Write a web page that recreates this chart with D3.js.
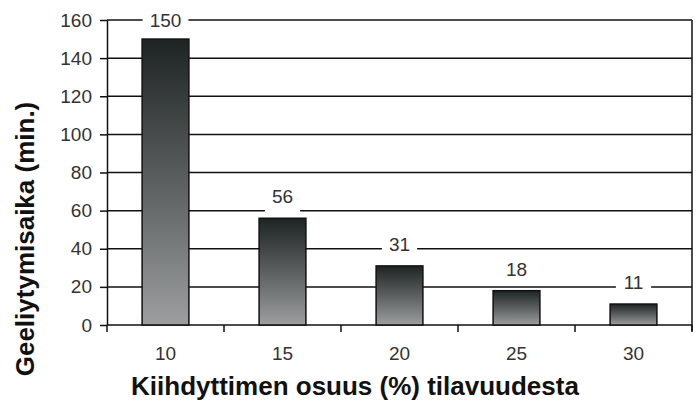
<!DOCTYPE html>
<html>
<head>
<meta charset="utf-8">
<script src="https://cdn.jsdelivr.net/npm/d3@7"></script>
<style>
body { margin: 0; background: #fff; }
svg { display: block; font-family: "Liberation Sans", Arial, sans-serif; }
</style>
</head>
<body>
<script>
var categories = ["10", "15", "20", "25", "30"];
var values = [150, 56, 31, 18, 11];
var yTicks = [0, 20, 40, 60, 80, 100, 120, 140, 160];

var margin = {top: 20, right: 6, bottom: 75, left: 107};
var width = 698 - margin.left - margin.right;
var height = 400 - margin.top - margin.bottom;

var svg = d3.select("body").append("svg")
    .attr("width", 698)
    .attr("height", 400);

var defs = svg.append("defs");
var grad = defs.append("linearGradient")
    .attr("id", "barGrad")
    .attr("x1", 0).attr("y1", 0).attr("x2", 0).attr("y2", 1);
grad.append("stop").attr("offset", "0%").attr("stop-color", "#1e2423");
grad.append("stop").attr("offset", "50%").attr("stop-color", "#5b5f5f");
grad.append("stop").attr("offset", "100%").attr("stop-color", "#9c9e9f");

var g = svg.append("g")
    .attr("transform", "translate(" + margin.left + "," + margin.top + ")");

var xScale = d3.scaleBand().domain(categories).range([0, width]).paddingInner(0.6).paddingOuter(0.3);
var xBand = d3.scaleBand().domain(categories).range([0, width]);
var yScale = d3.scaleLinear().domain([0, 160]).range([height, 0]);

// gridlines
g.selectAll(".grid")
    .data(yTicks.filter(function(d) { return d > 0; }))
    .enter().append("line")
    .attr("x1", 0).attr("x2", width)
    .attr("y1", function(d) { return yScale(d); })
    .attr("y2", function(d) { return yScale(d); })
    .attr("stroke", "#111")
    .attr("stroke-width", 1.5);

// right border
g.append("line")
    .attr("x1", width).attr("x2", width)
    .attr("y1", 0).attr("y2", height + 6)
    .attr("stroke", "#111").attr("stroke-width", 1.5);

// y axis
var yAxis = g.append("g")
    .call(d3.axisLeft(yScale).tickValues(yTicks).tickSize(7).tickSizeOuter(0).tickPadding(8));
yAxis.select(".domain").attr("stroke", "#111").attr("stroke-width", 1.5);
yAxis.selectAll(".tick line").attr("stroke", "#111").attr("stroke-width", 1.5);
yAxis.selectAll("text").attr("font-size", 19).attr("fill", "#333");

// x axis with ticks at category boundaries
var xAxisG = g.append("g").attr("transform", "translate(0," + height + ")");
xAxisG.append("line")
    .attr("x1", 0).attr("x2", width)
    .attr("stroke", "#111").attr("stroke-width", 1.5);
var bounds = categories.map(function(c) { return xBand(c); }).concat([width]);
xAxisG.selectAll(".xtick")
    .data(bounds)
    .enter().append("line")
    .attr("x1", function(d) { return d; }).attr("x2", function(d) { return d; })
    .attr("y1", 0).attr("y2", 7)
    .attr("stroke", "#111").attr("stroke-width", 1.5);
xAxisG.selectAll(".xlab")
    .data(categories)
    .enter().append("text")
    .attr("x", function(d) { return xBand(d) + xBand.bandwidth() / 2; })
    .attr("y", 35)
    .attr("text-anchor", "middle")
    .attr("font-size", 19)
    .attr("fill", "#333")
    .text(function(d) { return d; });

// bars
g.selectAll(".bar")
    .data(values)
    .enter().append("rect")
    .attr("x", function(d, i) { return xScale(categories[i]); })
    .attr("y", function(d) { return yScale(d); })
    .attr("width", xScale.bandwidth())
    .attr("height", function(d) { return height - yScale(d); })
    .attr("fill", "url(#barGrad)")
    .attr("stroke", "#111")
    .attr("stroke-width", 1.5);

// value labels with white box
var labels = g.selectAll(".vlab")
    .data(values)
    .enter().append("g")
    .attr("transform", function(d, i) {
        var top = yScale(d) - 22;
        if (top < 0) top = 0;
        return "translate(" + (xScale(categories[i]) + xScale.bandwidth() / 2) + "," + top + ")";
    });
labels.append("rect")
    .attr("x", function(d) { return -(String(d).length * 5.3 + 7); })
    .attr("y", -12)
    .attr("width", function(d) { return 2 * (String(d).length * 5.3 + 7); })
    .attr("height", 28)
    .attr("fill", "#fff");
labels.append("text")
    .attr("text-anchor", "middle")
    .attr("dy", "0.36em")
    .attr("font-size", 19)
    .attr("fill", "#333")
    .text(function(d) { return d; });

// axis titles
svg.append("text")
    .attr("transform", "translate(34,239) rotate(-90)")
    .attr("text-anchor", "middle")
    .attr("font-size", 26)
    .attr("font-weight", "bold")
    .attr("fill", "#111")
    .text("Geeliytymisaika (min.)");

svg.append("text")
    .attr("x", 355)
    .attr("y", 395)
    .attr("text-anchor", "middle")
    .attr("font-size", 26)
    .attr("font-weight", "bold")
    .attr("fill", "#111")
    .text("Kiihdyttimen osuus (%) tilavuudesta");
</script>
</body>
</html>
